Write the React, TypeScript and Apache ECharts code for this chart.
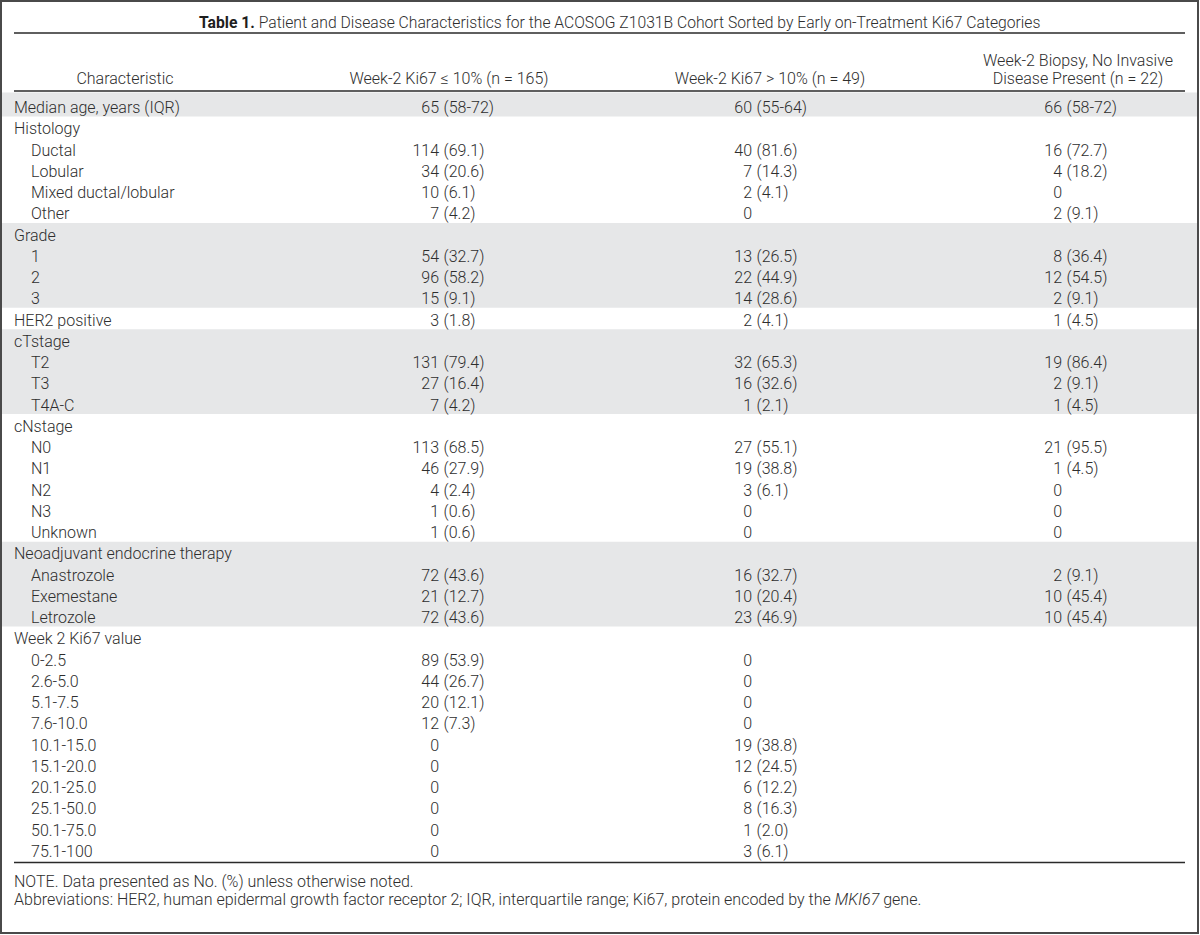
import React, { useEffect, useRef } from "react";
import * as echarts from "echarts";

const titleBold = "Table 1.";
const titleText = " Patient and Disease Characteristics for the ACOSOG Z1031B Cohort Sorted by Early on-Treatment Ki67 Categories";

const columnHeaders: string[][] = [
  ["Characteristic"],
  ["Week-2 Ki67 \u2264 10% (n = 165)"],
  ["Week-2 Ki67 > 10% (n = 49)"],
  ["Week-2 Biopsy, No Invasive", "Disease Present (n = 22)"],
];

const rowLabels = [
  "Median age, years (IQR)",
  "Histology", "Ductal", "Lobular", "Mixed ductal/lobular", "Other",
  "Grade", "1", "2", "3",
  "HER2 positive",
  "cTstage", "T2", "T3", "T4A-C",
  "cNstage", "N0", "N1", "N2", "N3", "Unknown",
  "Neoadjuvant endocrine therapy", "Anastrozole", "Exemestane", "Letrozole",
  "Week 2 Ki67 value", "0-2.5", "2.6-5.0", "5.1-7.5", "7.6-10.0", "10.1-15.0",
  "15.1-20.0", "20.1-25.0", "25.1-50.0", "50.1-75.0", "75.1-100",
];

const rowIndent = [
  0,
  0, 1, 1, 1, 1,
  0, 1, 1, 1,
  0,
  0, 1, 1, 1,
  0, 1, 1, 1, 1, 1,
  0, 1, 1, 1,
  0, 1, 1, 1, 1, 1, 1, 1, 1, 1, 1,
];

const lowKi67 = [
  "65 (58-72)",
  "", "114 (69.1)", "34 (20.6)", "10 (6.1)", "7 (4.2)",
  "", "54 (32.7)", "96 (58.2)", "15 (9.1)",
  "3 (1.8)",
  "", "131 (79.4)", "27 (16.4)", "7 (4.2)",
  "", "113 (68.5)", "46 (27.9)", "4 (2.4)", "1 (0.6)", "1 (0.6)",
  "", "72 (43.6)", "21 (12.7)", "72 (43.6)",
  "", "89 (53.9)", "44 (26.7)", "20 (12.1)", "12 (7.3)", "0",
  "0", "0", "0", "0", "0",
];

const highKi67 = [
  "60 (55-64)",
  "", "40 (81.6)", "7 (14.3)", "2 (4.1)", "0",
  "", "13 (26.5)", "22 (44.9)", "14 (28.6)",
  "2 (4.1)",
  "", "32 (65.3)", "16 (32.6)", "1 (2.1)",
  "", "27 (55.1)", "19 (38.8)", "3 (6.1)", "0", "0",
  "", "16 (32.7)", "10 (20.4)", "23 (46.9)",
  "", "0", "0", "0", "0", "19 (38.8)",
  "12 (24.5)", "6 (12.2)", "8 (16.3)", "1 (2.0)", "3 (6.1)",
];

const noInvasive = [
  "66 (58-72)",
  "", "16 (72.7)", "4 (18.2)", "0", "2 (9.1)",
  "", "8 (36.4)", "12 (54.5)", "2 (9.1)",
  "1 (4.5)",
  "", "19 (86.4)", "2 (9.1)", "1 (4.5)",
  "", "21 (95.5)", "1 (4.5)", "0", "0", "0",
  "", "2 (9.1)", "10 (45.4)", "10 (45.4)",
  "", "", "", "", "", "",
  "", "", "", "", "",
];

const shadedGroups: [number, number][] = [
  [0, 0],
  [6, 9],
  [11, 14],
  [21, 24],
];

const noteLine = "NOTE. Data presented as No. (%) unless otherwise noted.";
const abbrevPrefix = "Abbreviations: HER2, human epidermal growth factor receptor 2; IQR, interquartile range; Ki67, protein encoded by the ";
const abbrevItalic = "MKI67";
const abbrevSuffix = " gene.";

export default function App() {
  const ref = useRef<HTMLDivElement>(null);

  useEffect(() => {
    if (!ref.current) return;
    const chart = echarts.init(ref.current, null, { renderer: "svg" });

    const FONT = "Roboto, 'Liberation Sans', Arial, sans-serif";
    const FS = 16;
    const TXT = "#2e2e2e";
    const row0 = 106;
    const pitch = 21.25;
    const half = 10.6;
    const textShift = 1.5;
    const lineL = 14;
    const lineR = 1185;
    const colRight = [0, 439, 752, 1062];
    const headerCenter = [125, 449, 770, 1078];
    const spaceW = 4.6;
    const rowY = (i: number) => row0 + i * pitch;

    const els: any[] = [];

    shadedGroups.forEach(([a, b]) => {
      const top = a === 0 ? 92.5 : rowY(a) - half;
      const bottom = rowY(b) + half;
      els.push({
        type: "rect",
        shape: { x: 2, y: top, width: 1195, height: bottom - top },
        style: { fill: "#e6e7e8" },
        silent: true,
      });
    });

    els.push({
      type: "rect",
      shape: { x: 1, y: 1, width: 1197, height: 932 },
      style: { fill: "none", stroke: "#4a4a4a", lineWidth: 2 },
      silent: true,
    });

    [33, 91, 862.5].forEach((y) => {
      els.push({
        type: "line",
        shape: { x1: lineL, y1: y, x2: lineR, y2: y },
        style: { stroke: "#2a2a2a", lineWidth: 1.6 },
        silent: true,
      });
    });

    els.push({
      type: "text",
      x: 199,
      y: 22,
      style: {
        text: "{b|" + titleBold + "}{n|" + titleText + "}",
        verticalAlign: "middle",
        align: "left",
        rich: {
          b: { fontFamily: FONT, fontSize: 15.7, fontWeight: "bold", fill: "#1e1e1e" },
          n: { fontFamily: FONT, fontSize: 15.7, fontWeight: 300, fill: TXT },
        },
      },
    });

    columnHeaders.forEach((lines, c) => {
      const n = lines.length;
      lines.forEach((t, k) => {
        const y = 78 - (n - 1 - k) * 17.5;
        els.push({
          type: "text",
          x: headerCenter[c],
          y,
          style: {
            text: t,
            fontFamily: FONT,
            fontSize: FS,
            fontWeight: 300,
            fill: TXT,
            align: "center",
            verticalAlign: "middle",
          },
        });
      });
    });

    const cols = [lowKi67, highKi67, noInvasive];
    rowLabels.forEach((label, i) => {
      const y = rowY(i) + textShift;
      els.push({
        type: "text",
        x: rowIndent[i] ? 31 : 14,
        y,
        style: {
          text: label,
          fontFamily: FONT,
          fontSize: FS,
          fontWeight: 300,
          fill: TXT,
          align: "left",
          verticalAlign: "middle",
        },
      });
      cols.forEach((arr, c) => {
        const v = arr[i];
        if (!v) return;
        const sp = v.indexOf(" ");
        const count = sp >= 0 ? v.slice(0, sp) : v;
        const rest = sp >= 0 ? v.slice(sp + 1) : "";
        const xr = colRight[c + 1];
        els.push({
          type: "text",
          x: xr,
          y,
          style: {
            text: count,
            fontFamily: FONT,
            fontSize: FS,
            fontWeight: 300,
            fill: TXT,
            align: "right",
            verticalAlign: "middle",
          },
        });
        if (rest) {
          els.push({
            type: "text",
            x: xr + spaceW,
            y,
            style: {
              text: rest,
              fontFamily: FONT,
              fontSize: FS,
              fontWeight: 300,
              fill: TXT,
              align: "left",
              verticalAlign: "middle",
            },
          });
        }
      });
    });

    els.push({
      type: "text",
      x: 14,
      y: 881,
      style: {
        text: noteLine,
        fontFamily: FONT,
        fontSize: FS,
        fontWeight: 300,
        fill: TXT,
        align: "left",
        verticalAlign: "middle",
      },
    });
    els.push({
      type: "text",
      x: 14,
      y: 899.5,
      style: {
        text: "{n|" + abbrevPrefix + "}{i|" + abbrevItalic + "}{n|" + abbrevSuffix + "}",
        align: "left",
        verticalAlign: "middle",
        rich: {
          n: { fontFamily: FONT, fontSize: FS, fontWeight: 300, fill: TXT },
          i: { fontFamily: FONT, fontSize: FS, fontWeight: 300, fontStyle: "italic", fill: TXT },
        },
      },
    });

    chart.setOption({
      animation: false,
      backgroundColor: "#ffffff",
      graphic: { elements: els },
    });

    return () => chart.dispose();
  }, []);

  return (
    <div
      ref={ref}
      style={{ position: "absolute", left: 0, top: 0, width: 1200, height: 935, background: "#fff" }}
    />
  );
}
